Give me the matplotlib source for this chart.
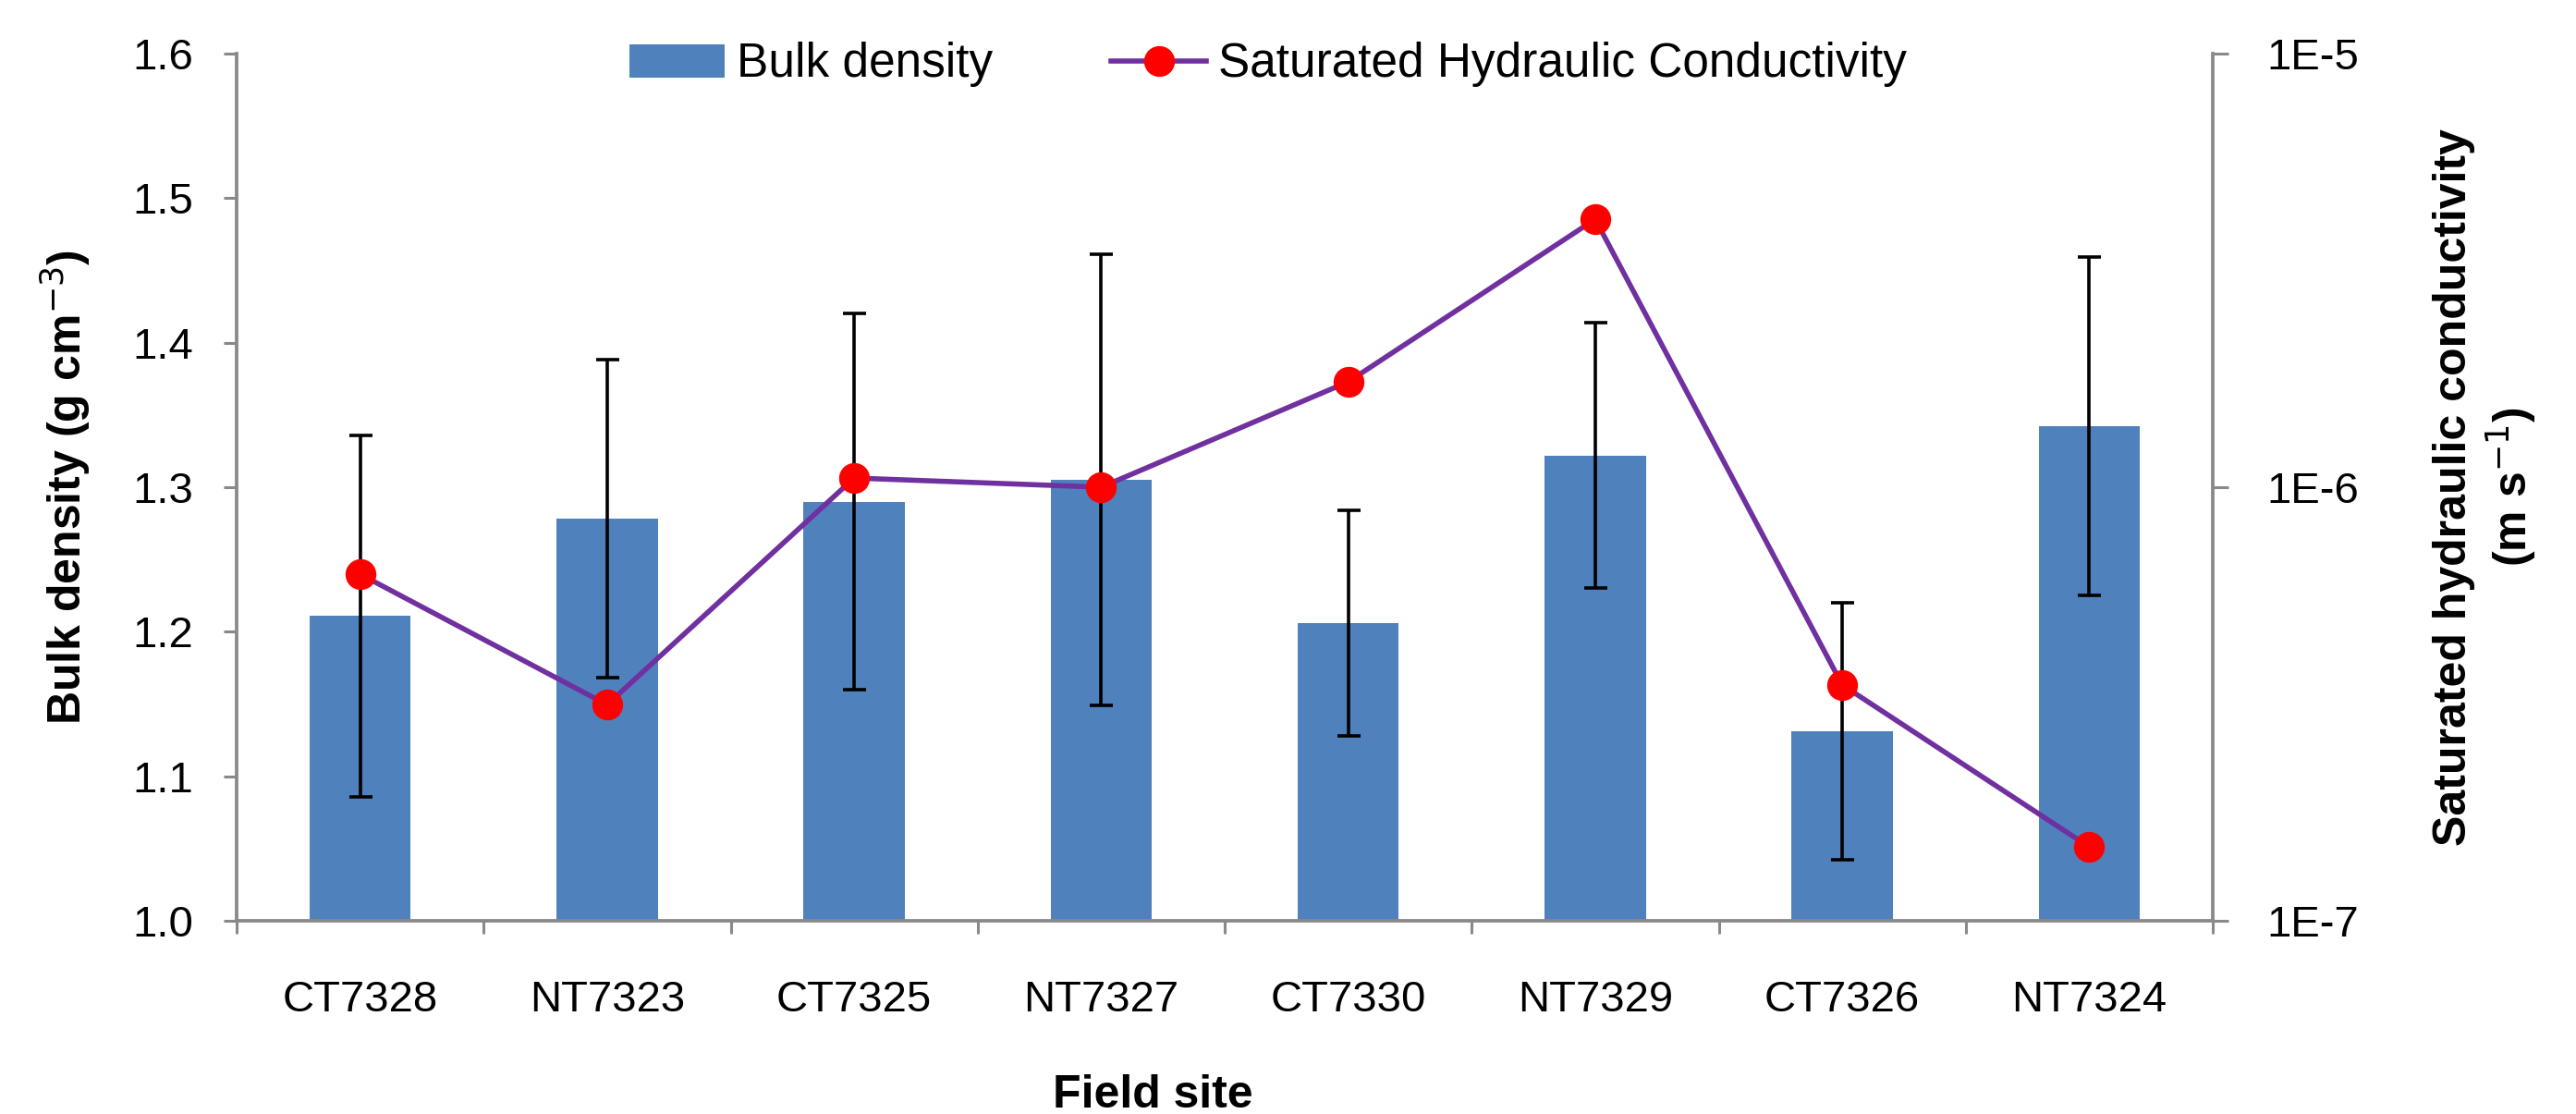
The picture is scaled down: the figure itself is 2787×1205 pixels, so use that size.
import numpy as np
import matplotlib
matplotlib.use("Agg")
import matplotlib.pyplot as plt
from matplotlib.ticker import FixedLocator, NullLocator

plt.rcParams["font.family"] = ["Liberation Sans", "DejaVu Sans"]

sites = ["CT7328", "NT7323", "CT7325", "NT7327", "CT7330", "NT7329", "CT7326", "NT7324"]
bulk_density = [1.211, 1.278, 1.290, 1.305, 1.206, 1.322, 1.131, 1.342]
bulk_err = [0.125, 0.110, 0.130, 0.156, 0.078, 0.092, 0.089, 0.117]
ksat = [6.3e-7, 3.15e-7, 1.05e-6, 1.0e-6, 1.75e-6, 4.15e-6, 3.5e-7, 1.48e-7]

BAR = "#4F81BD"
LINE = "#7030A0"
SPINE = "#898989"

# axes box in pixels of the 2787x1205 canvas
L, R, T, B = 256, 2394, 58, 996
W, H = R - L, B - T

fig = plt.figure(figsize=(27.87, 12.05), dpi=100)
ax = fig.add_axes([L / 2787, 1 - B / 1205, W / 2787, H / 1205])
ax2 = ax.twinx()

x = np.arange(len(sites))
bars = ax.bar(x, bulk_density, width=0.41, color=BAR, label="Bulk density", zorder=2)
ax.errorbar(x, bulk_density, yerr=bulk_err, fmt="none", ecolor="black",
            elinewidth=2.6, capsize=9, capthick=2.6, zorder=3)

line, = ax2.plot(x, ksat, color=LINE, linewidth=4, marker="o", markersize=23,
                 markerfacecolor="red", markeredgecolor="red",
                 label="Saturated Hydraulic Conductivity")

ax.set_xlim(-0.5, len(sites) - 0.5)
ax.set_ylim(1.0, 1.6)
ax.set_yticks(np.arange(1.0, 1.61, 0.1))
ax.set_yticklabels([f"{v:.1f}" for v in np.arange(1.0, 1.61, 0.1)])
ax.set_xticks(x)
ax.set_xticklabels(sites)
ax.xaxis.set_minor_locator(FixedLocator(np.arange(-0.5, len(sites), 1.0)))

ax2.set_yscale("log")
ax2.set_ylim(1e-7, 1e-5)
ax2.yaxis.set_major_locator(FixedLocator([1e-7, 1e-6, 1e-5]))
ax2.yaxis.set_minor_locator(NullLocator())
ax2.set_yticklabels(["1E-7", "1E-6", "1E-5"])

for a in (ax, ax2):
    for s in a.spines.values():
        s.set_color(SPINE)
        s.set_linewidth(2.7)
    a.spines["top"].set_visible(False)
ax.spines["right"].set_visible(False)
ax2.spines["left"].set_visible(False)
ax2.spines["bottom"].set_visible(False)

ax.tick_params(axis="y", which="major", direction="out", length=10, width=2.2,
               color=SPINE, labelsize=34, pad=24)
ax.tick_params(axis="x", which="major", length=0, labelsize=34, pad=46)
ax.tick_params(axis="x", which="minor", direction="out", length=10, width=2.2, color=SPINE)
ax2.tick_params(axis="y", which="major", direction="out", length=12, width=2.2,
                color=SPINE, labelsize=34, pad=30)

ax.set_ylabel("Bulk density (g cm$^{-3}$)", fontsize=36, fontweight="bold")
ax.yaxis.set_label_coords(-(L - 100) / W, 0.5)
ax.set_xlabel("Field site", fontsize=36, fontweight="bold")
ax.xaxis.set_label_coords((1247 - L) / W, -(1162 - B) / H)
ax2.set_ylabel("Saturated hydraulic conductivity\n(m s$^{-1}$)", fontsize=36,
               fontweight="bold", linespacing=1.2)
ax2.yaxis.set_label_coords((2632 - L) / W, 0.5)

fig.legend([bars, line], ["Bulk density", "Saturated Hydraulic Conductivity"],
           loc="center", bbox_to_anchor=(1372 / 2787, 1 - 70 / 1205), ncol=2,
           frameon=False, fontsize=37, handlelength=2.0, handletextpad=0.25,
           columnspacing=2.5)

fig.savefig("out.png", dpi=100)
